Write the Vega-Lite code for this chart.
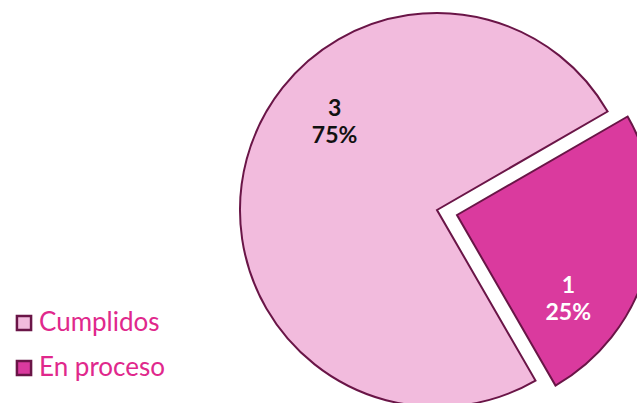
{
  "$schema": "https://vega.github.io/schema/vega-lite/v6.json",
  "autosize": "none",
  "width": 394,
  "height": 394,
  "padding": {"left": 240, "top": 13, "right": 3, "bottom": 0},
  "background": "white",
  "config": {"view": {"stroke": null}},
  "data": {"values": [
    {"category": "Cumplidos", "value": 3, "pct": "75%"},
    {"category": "En proceso", "value": 1, "pct": "25%"}
  ]},
  "transform": [
    {"stack": "value", "groupby": [], "as": ["v0", "v1"], "sort": [{"field": "category", "order": "ascending"}]},
    {"calculate": "(datum.v0 + datum.v1) / 2", "as": "vmid"},
    {"calculate": "[toString(datum.value), datum.pct]", "as": "label"}
  ],
  "layer": [
    {
      "transform": [{"filter": "datum.category == 'Cumplidos'"}],
      "mark": {"type": "arc", "stroke": "#6A1547", "strokeWidth": 2},
      "encoding": {
        "theta": {"field": "v0", "type": "quantitative", "scale": {"domain": [0, 4], "range": [2.6180, 8.9012]}},
        "theta2": {"field": "v1"},
        "color": {"field": "category", "type": "nominal",
          "scale": {"domain": ["Cumplidos", "En proceso"], "range": ["#F2BBDD", "#DA3A9E"]},
          "legend": {"title": null, "orient": "none", "legendX": -229, "legendY": 297,
            "symbolType": "square", "symbolSize": 200, "symbolStrokeColor": "#6A1547", "symbolStrokeWidth": 2.5,
            "labelFont": "Lato", "labelFontSize": 26, "labelColor": "#E0288C", "rowPadding": 19, "labelOffset": 2}}
      }
    },
    {
      "transform": [{"filter": "datum.category == 'En proceso'"}],
      "mark": {"type": "arc", "stroke": "#6A1547", "strokeWidth": 2, "xOffset": 20, "yOffset": 5},
      "encoding": {
        "theta": {"field": "v0", "type": "quantitative"},
        "theta2": {"field": "v1"},
        "color": {"field": "category", "type": "nominal"}
      }
    },
    {
      "transform": [{"filter": "datum.category == 'Cumplidos'"}],
      "mark": {"type": "text", "radius": 135, "dx": 28, "dy": -66, "font": "Lato", "fontWeight": "bold", "fontSize": 23, "lineHeight": 27, "color": "#111111", "baseline": "middle"},
      "encoding": {
        "theta": {"field": "vmid", "type": "quantitative"},
        "text": {"field": "label"}
      }
    },
    {
      "transform": [{"filter": "datum.category == 'En proceso'"}],
      "mark": {"type": "text", "radius": 138, "dx": -2, "dy": 40, "font": "Lato", "fontWeight": "bold", "fontSize": 23, "lineHeight": 27, "color": "white", "baseline": "middle"},
      "encoding": {
        "theta": {"field": "vmid", "type": "quantitative"},
        "text": {"field": "label"}
      }
    }
  ]
}
